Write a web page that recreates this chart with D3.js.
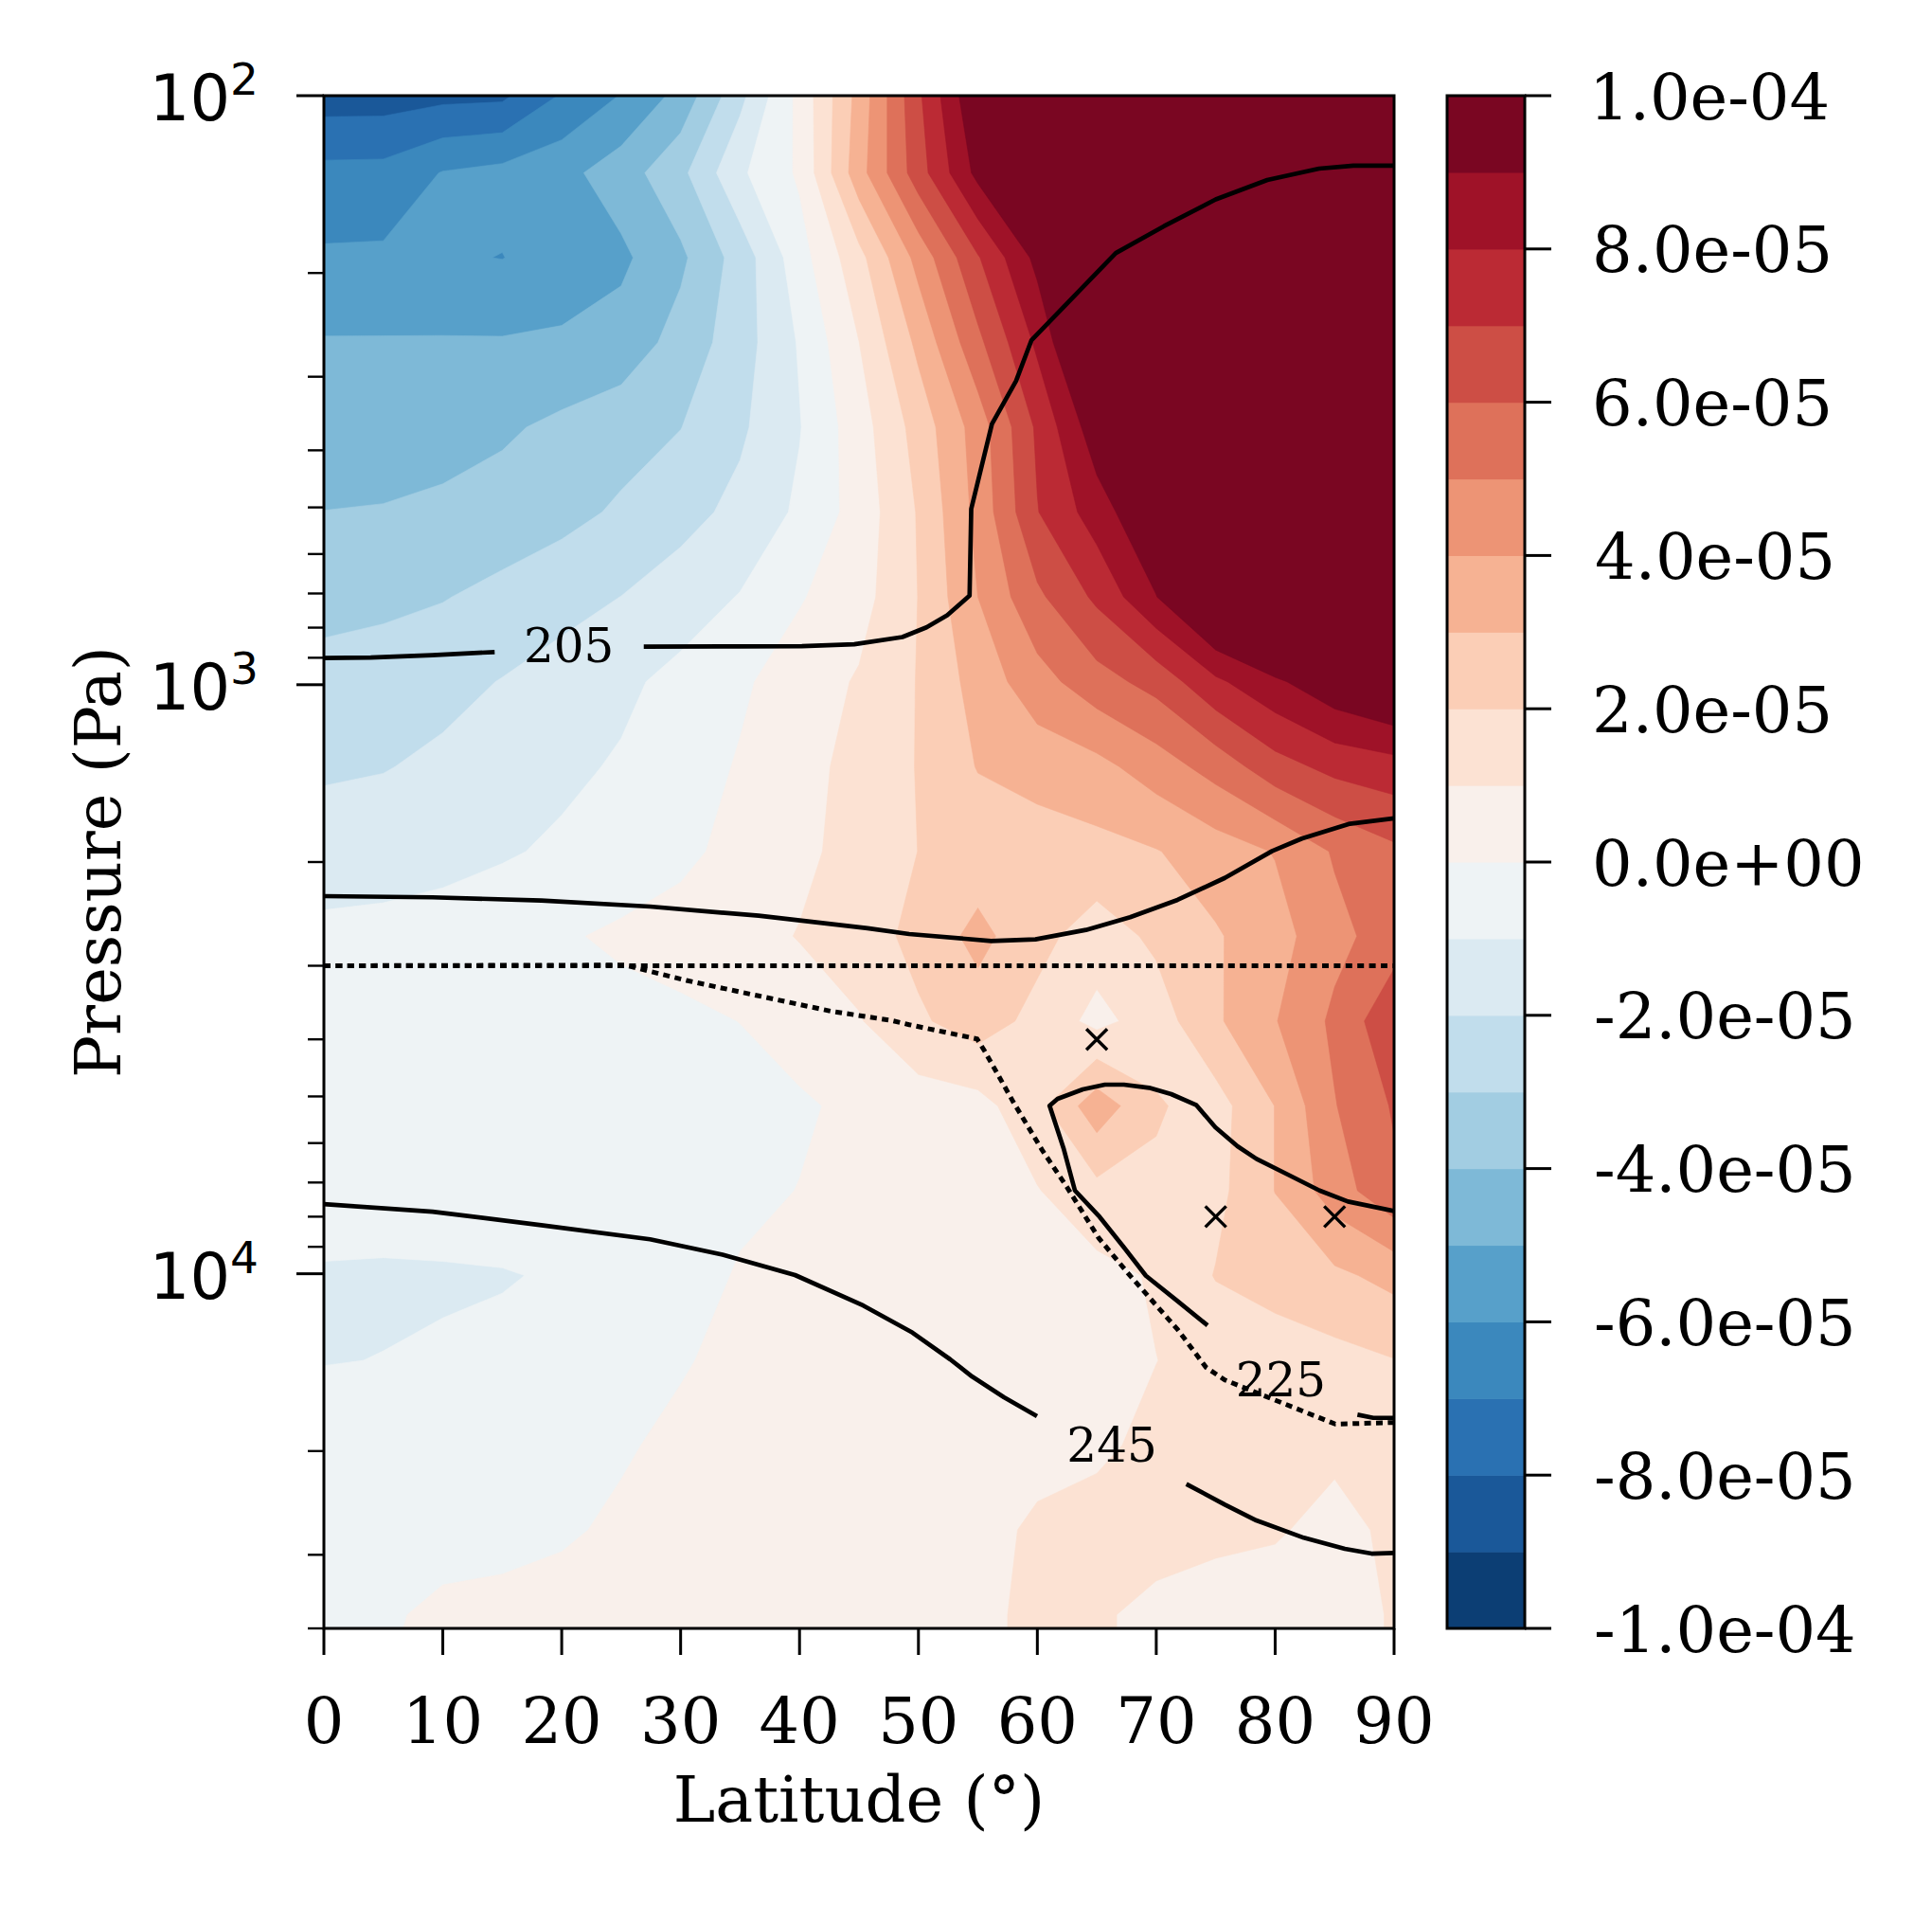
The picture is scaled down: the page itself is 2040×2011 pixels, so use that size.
<!DOCTYPE html>
<html>
<head>
<meta charset="utf-8">
<script src="https://cdn.jsdelivr.net/npm/d3@7"></script>
<style>
  body { margin: 0; background: #ffffff; }
  svg { display: block; }
</style>
</head>
<body>
<svg id="chart" width="2040" height="2011"></svg>
<script>
// ---------------- DATA ----------------
// grid latitudes (degrees)
const latitudes = [0, 5, 10, 15, 20, 25, 30, 35, 40, 45, 50, 55, 60, 65, 70, 75, 80, 85, 90];
// grid pressure levels (Pa)
const pressureLevels = [97.05, 135.2, 188.4, 262.4, 365.6, 509.3, 709.6, 988.6, 1377, 1919,
                        2673, 3724, 5188, 7228, 10069, 14028, 19543, 27227, 37931, 52845];
// field values in units of 1e-5, one row per pressure level (row i <-> pressureLevels[i])
const valueUnit = 1e-5;
const fieldRows = [
  [-8.66,-8.65,-8.5,-8.45,-7.1,-6.1,-4.83,-2.4,0.29,3.33,6.85,10.1,12,13,13,13,13,13,13],
  [-6.71,-6.68,-5.95,-5.7,-5.3,-4.49,-3.26,-1.17,0.15,3.6,6.55,9.3,12,13,13,13,13,13,13],
  [-5.86,-5.83,-5.9,-6.02,-5.6,-5.2,-4.2,-2.57,-0.42,1.68,4.34,6.91,9.3,12,13,13,13,13,13],
  [-4.93,-4.93,-4.92,-4.92,-4.85,-4.6,-3.63,-2.46,-0.91,0.99,3.24,5.75,8.2,11.2,13,13,13,13,13],
  [-4.47,-4.45,-4.4,-4.15,-3.78,-3.4,-3.02,-2.17,-1.05,0.55,2.4,4.45,7.17,9.64,13,13,13,13,13],
  [-3.99,-3.95,-3.8,-3.6,-3.3,-2.86,-2.35,-1.73,-0.83,0.4,2.08,4.3,6.96,8.5,10.06,12,13,13,13],
  [-3.29,-3.21,-3.05,-2.72,-2.36,-1.99,-1.5,-0.95,-0.08,0.6,2.02,4.0,5.8,7.2,8.97,11,12.5,13,13],
  [-2.69,-2.55,-2.3,-1.96,-1.58,-1.2,-0.72,-0.15,0.47,1.1,2.05,3.4,4.6,5.6,6.35,7.8,8.8,9.8,10.5],
  [-2.15,-2.05,-1.8,-1.5,-1.2,-0.9,-0.45,0.08,0.68,1.3,2.05,3.05,3.4,3.7,4.5,5.4,6.6,7.3,7.6],
  [-1.49,-1.43,-1.3,-1.1,-0.85,-0.55,-0.2,0.27,0.75,1.4,2.01,2.4,2.5,2.7,2.95,3.5,4.05,5.1,5.8],
  [-0.78,-0.72,-0.6,-0.4,-0.1,0.15,0.35,0.6,1.05,1.5,2.3,3.3,2.3,1.5,2.2,2.9,3.6,4.7,5.5],
  [-0.7,-0.65,-0.6,-0.5,-0.4,-0.3,-0.18,0.01,0.4,0.93,1.85,2.5,1.7,0.7,1.5,2.85,3.95,5.2,6.8],
  [-0.75,-0.75,-0.7,-0.6,-0.55,-0.5,-0.4,-0.3,-0.12,0.2,0.5,0.65,1.7,3.6,2.1,1.6,3.02,4.95,6.1],
  [-0.85,-0.85,-0.8,-0.7,-0.6,-0.5,-0.35,-0.2,0.02,0.35,0.45,0.5,0.95,1.7,1.82,1.7,3.02,4.5,5.8],
  [-1.03,-1.04,-1.04,-1.03,-0.95,-0.7,-0.4,0.08,0.3,0.4,0.4,0.45,0.5,0.7,1.1,2.05,2.4,2.8,3.3],
  [-1.01,-0.995,-0.96,-0.886,-0.7,-0.45,-0.08,0.25,0.35,0.35,0.4,0.4,0.45,0.6,0.99,1.3,1.5,1.7,1.97],
  [-0.85,-0.82,-0.75,-0.62,-0.42,-0.1,0.2,0.3,0.35,0.35,0.4,0.5,0.6,0.85,1.2,1.3,1.3,1.2,1.3],
  [-0.75,-0.7,-0.55,-0.38,-0.12,0.15,0.25,0.3,0.3,0.3,0.3,0.6,1.2,1.3,1.3,1.2,1.1,0.7,1.2],
  [-0.5,-0.2,0.3,0.35,0.35,0.35,0.35,0.35,0.3,0.3,0.4,0.7,1.3,1.1,0.8,0.6,0.5,0.5,1.1],
  [-0.3,0.0,0.3,0.35,0.35,0.35,0.35,0.35,0.3,0.3,0.4,0.7,1.3,1.1,0.8,0.6,0.5,0.5,1.1]
];
// filled contour levels
const levels = [-1.0e-4,-9e-5,-8e-5,-7e-5,-6e-5,-5e-5,-4e-5,-3e-5,-2e-5,-1e-5,0,
                1e-5,2e-5,3e-5,4e-5,5e-5,6e-5,7e-5,8e-5,9e-5,1.0e-4];
const colorbarTicks = [-1.0e-4,-8e-5,-6e-5,-4e-5,-2e-5,0,2e-5,4e-5,6e-5,8e-5,1.0e-4];
const latTicks = [0,10,20,30,40,50,60,70,80,90];
const pressureMajorTicks = [100, 1000, 10000];
const pressureMinorTicks = [200,300,400,500,600,700,800,900,2000,3000,4000,5000,6000,7000,8000,9000,20000,30000,40000];
const latDomain = [0, 90];
const pressureDomain = [100, 40000];

// temperature contour lines [lat, Pa]  (drawn segments, gaps where labels sit)
const t205SegA = [[0,901],[3.94,899],[9.11,891],[14.36,880]];
const t205SegB = [[26.9,862],[35,861],[40.2,860],[44.6,854],[48.65,830],[50.68,799],[52.42,762],[54.3,706],
                  [54.44,503],[56.18,361],[58.21,305],[59.51,260],[66.6,185],[70.66,166.5],[75,150],
                  [79.34,139],[83.69,133],[86.58,131.5],[90,131.5]];
const t225Upper = [[0,2285],[9.14,2296],[18.29,2324],[27.43,2380],[36.57,2467],[45.72,2590],[49.22,2650],
                   [56.12,2723],[59.84,2706],[64.09,2608],[67.8,2482],[71.79,2319],[75.77,2128],
                   [79.75,1916],[82.24,1825],[86.29,1722],[90,1686]];
const t225HookA = [[90,7823],[86.12,7539],[83.73,7222],[81.08,6788],[78.43,6382],[76.83,6075],[74.97,5642],
                   [73.38,5174],[71.26,4955],[69.4,4834],[67.28,4775],[65.68,4775],[63.82,4864],[61.7,5048],
                   [61.03,5186],[62.23,6149],[63.16,7222],[65.15,7969],[67.28,9018],[69.13,10079],
                   [71.78,11123],[74.31,12234]];
const t225HookB = [[86.92,17348],[88.25,17566],[90,17566]];
const t245SegA = [[0,7619],[9.14,7844],[18.29,8271],[27.43,8739],[33.53,9283],[39.62,10051],[45.36,11324],
                  [49.5,12589],[52.67,13975],[54.53,14955],[57.19,16203],[59.97,17450]];
const t245SegB = [[72.53,22750],[75.77,24660],[78.42,26230],[82.41,28070],[85.86,29310],[88.11,29860],[90,29785]];
// dotted lines [lat, Pa]
const dottedFlat = [[0,3000],[90,3000]];
const dottedBent = [[0,3000],[25.3,2992],[30.5,3178],[36.57,3375],[42.67,3584],[47.79,3717],[49.22,3777],
                    [54.93,3993],[55.59,4195],[57.98,5111],[60.37,6150],[62.5,7133],[65.15,8690],[67.8,10077],
                    [71.79,12430],[74.18,14414],[75.77,15145],[79.75,16313],[83.73,17560],[85.06,17998],[90,17888]];
// x markers [lat, Pa]
const markerPoints = [[65,4000],[75,8000],[85,8000]];
// contour labels [lat, Pa, text]
const contourLabels = [[20.6,855,"205"],[80.48,15053,"225"],[66.27,19434,"245"]];

// ---------------- LAYOUT ----------------
const plot = {left: 342, right: 1472, top: 101, bottom: 1719};
const cbar = {left: 1528, right: 1610, top: 101, bottom: 1719};
const serif = "DejaVu Serif";
const sans = "DejaVu Sans";
const tickFont = 67;

const svg = d3.select("#chart");
const x = d3.scaleLinear().domain(latDomain).range([plot.left, plot.right]);
const y = d3.scaleLog().domain(pressureDomain).range([plot.top, plot.bottom]);

// matplotlib RdBu (reversed)
const rdbuStops = ["#67001f","#b2182b","#d6604d","#f4a582","#fddbc7","#f7f7f7","#d1e5f0","#92c5de","#4393c3","#2166ac","#053061"];
const rdbu = d3.scaleLinear().domain(d3.range(11).map(i => i / 10)).range(rdbuStops).interpolate(d3.interpolateRgb);
const nBands = levels.length - 1;
const bandColor = b => rdbu(1 - (b + 0.5) / nBands);

// ---------------- FILLED CONTOURS ----------------
svg.append("defs").append("clipPath").attr("id", "plotclip")
  .append("rect").attr("x", plot.left).attr("y", plot.top)
  .attr("width", plot.right - plot.left).attr("height", plot.bottom - plot.top);

const nx = latitudes.length, ny = pressureLevels.length;
const values = [];
for (let j = 0; j < ny; j++) for (let i = 0; i < nx; i++) values.push(fieldRows[j][i] * valueUnit);

const idxToLat = d3.scaleLinear().domain(d3.range(nx)).range(latitudes);
const idxToLogP = d3.scaleLinear().domain(d3.range(ny)).range(pressureLevels.map(Math.log10));
const clampv = (v, lo, hi) => Math.max(lo, Math.min(hi, v));
const gridTransform = d3.geoTransform({
  point(px, py) {
    const i = clampv(px - 0.5, 0, nx - 1);
    const j = clampv(py - 0.5, 0, ny - 1);
    this.stream.point(x(idxToLat(i)), y(Math.pow(10, idxToLogP(j))));
  }
});
const gridPath = d3.geoPath(gridTransform);

const thresholds = levels.slice(1, -1);
const contours = d3.contours().size([nx, ny]).thresholds(thresholds)(values);

const fillG = svg.append("g").attr("clip-path", "url(#plotclip)");
fillG.append("rect").attr("x", plot.left).attr("y", plot.top)
  .attr("width", plot.right - plot.left).attr("height", plot.bottom - plot.top)
  .attr("fill", bandColor(0));
fillG.selectAll("path.band").data(contours).join("path")
  .attr("class", "band")
  .attr("d", gridPath)
  .attr("fill", (d, k) => bandColor(k + 1))
  .attr("stroke", (d, k) => bandColor(k + 1))
  .attr("stroke-width", 0.6);

// ---------------- LINES ----------------
const line = d3.line().x(d => x(d[0])).y(d => y(d[1]));
const linesG = svg.append("g").attr("clip-path", "url(#plotclip)");
[dottedFlat, dottedBent].forEach(seg => {
  linesG.append("path").attr("d", line(seg)).attr("fill", "none")
    .attr("stroke", "#000").attr("stroke-width", 5).attr("stroke-dasharray", "7,5.4");
});
[t205SegA, t205SegB, t225Upper, t225HookA, t225HookB, t245SegA, t245SegB].forEach(seg => {
  linesG.append("path").attr("d", line(seg)).attr("fill", "none")
    .attr("stroke", "#000").attr("stroke-width", 4.7).attr("stroke-linejoin", "round");
});
// markers
const ms = 11;
markerPoints.forEach(p => {
  const cx = x(p[0]), cy = y(p[1]);
  linesG.append("path")
    .attr("d", `M${cx - ms},${cy - ms}L${cx + ms},${cy + ms}M${cx - ms},${cy + ms}L${cx + ms},${cy - ms}`)
    .attr("stroke", "#000").attr("stroke-width", 3.4).attr("fill", "none");
});
// contour labels
contourLabels.forEach(l => {
  svg.append("text").attr("x", x(l[0])).attr("y", y(l[1]) + 18.5)
    .attr("text-anchor", "middle").style("font-family", serif).style("font-size", "50px")
    .attr("fill", "#000").text(l[2]);
});

// ---------------- AXES ----------------
const axG = svg.append("g");
axG.append("rect").attr("x", plot.left).attr("y", plot.top)
  .attr("width", plot.right - plot.left).attr("height", plot.bottom - plot.top)
  .attr("fill", "none").attr("stroke", "#000").attr("stroke-width", 3);

// x ticks
latTicks.forEach(t => {
  axG.append("line").attr("x1", x(t)).attr("x2", x(t)).attr("y1", plot.bottom).attr("y2", plot.bottom + 28)
    .attr("stroke", "#000").attr("stroke-width", 3);
  axG.append("text").attr("x", x(t)).attr("y", 1840).attr("text-anchor", "middle")
    .style("font-family", serif).style("font-size", tickFont + "px").text(t);
});
axG.append("text").attr("x", (plot.left + plot.right) / 2).attr("y", 1923).attr("text-anchor", "middle")
  .style("font-family", serif).style("font-size", "67px").text("Latitude (°)");

// y ticks
pressureMajorTicks.forEach(t => {
  const yy = y(t);
  axG.append("line").attr("x1", plot.left - 29).attr("x2", plot.left).attr("y1", yy).attr("y2", yy)
    .attr("stroke", "#000").attr("stroke-width", 3);
  const txt = axG.append("text").attr("x", 273).attr("y", yy + 26).attr("text-anchor", "end")
    .style("font-family", sans).style("font-size", "67px");
  txt.append("tspan").text("10");
  txt.append("tspan").attr("dy", -27).style("font-size", "47px").text(Math.round(Math.log10(t)));
});
pressureMinorTicks.forEach(t => {
  const yy = y(t);
  axG.append("line").attr("x1", plot.left - 17).attr("x2", plot.left).attr("y1", yy).attr("y2", yy)
    .attr("stroke", "#000").attr("stroke-width", 2.4);
});
axG.append("text").attr("transform", `translate(127,${(plot.top + plot.bottom) / 2}) rotate(-90)`)
  .attr("text-anchor", "middle").style("font-family", serif).style("font-size", "67px").text("Pressure (Pa)");

// ---------------- COLORBAR ----------------
const cbY = d3.scaleLinear().domain([levels[0], levels[levels.length - 1]]).range([cbar.bottom, cbar.top]);
const cbG = svg.append("g");
d3.range(nBands).forEach(b => {
  const y0 = cbY(levels[b + 1]), y1 = cbY(levels[b]);
  cbG.append("rect").attr("x", cbar.left).attr("y", y0).attr("width", cbar.right - cbar.left)
    .attr("height", y1 - y0 + 0.6).attr("fill", bandColor(b));
});
cbG.append("rect").attr("x", cbar.left).attr("y", cbar.top).attr("width", cbar.right - cbar.left)
  .attr("height", cbar.bottom - cbar.top).attr("fill", "none").attr("stroke", "#000").attr("stroke-width", 3);
const fmt = v => {
  const [m, e] = v.toExponential(1).split("e");
  const sign = e[0] === "-" ? "-" : "+";
  const num = e.replace(/[+-]/, "").padStart(2, "0");
  return `${m}e${sign}${num}`;
};
// approximate left side bearings so labels line up by ink like the reference
const lsb = {"-": 4, "0": 6, "1": 9, "2": 6, "4": 3, "6": 6, "8": 6};
colorbarTicks.forEach(t => {
  const yy = cbY(t);
  const label = fmt(t);
  cbG.append("line").attr("x1", cbar.right).attr("x2", cbar.right + 28).attr("y1", yy).attr("y2", yy)
    .attr("stroke", "#000").attr("stroke-width", 3);
  cbG.append("text").attr("x", 1687 - (lsb[label[0]] || 5)).attr("y", yy + 24.5).style("font-family", serif)
    .style("font-size", tickFont + "px").text(label);
});
</script>
</body>
</html>
